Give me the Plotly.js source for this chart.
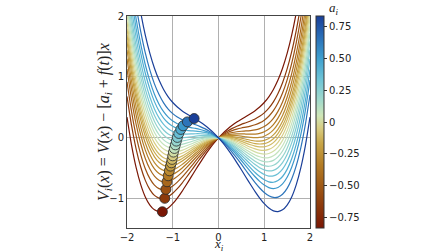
<!DOCTYPE html>
<html><head><meta charset="utf-8">
<script src="https://cdn.plot.ly/plotly-3.0.1.min.js"></script>
<style>html,body{margin:0;padding:0;background:#fff}#chart{width:448px;height:252px}</style>
</head><body><div id="chart"></div>
<script>
// x sample positions of the potential curves
const xGrid = [-2.0,-1.9,-1.8,-1.7,-1.6,-1.5,-1.4,-1.3,-1.2,-1.1,-1.0,-0.9,-0.8,-0.7,-0.6,-0.5,-0.4,-0.3,-0.2,-0.1,
  0.0,0.1,0.2,0.3,0.4,0.5,0.6,0.7,0.8,0.9,1.0,1.1,1.2,1.3,1.4,1.5,1.6,1.7,1.8,1.9,2.0];
// untilted double-well V(x), read from the a_i ≈ 0 curve
const baseV = [2.000,1.453,1.004,0.643,0.358,0.141,-0.020,-0.131,-0.202,-0.239,-0.250,-0.241,-0.218,-0.185,-0.148,-0.109,-0.074,-0.043,-0.020,-0.005,
  0.000,-0.005,-0.020,-0.043,-0.074,-0.109,-0.148,-0.185,-0.218,-0.241,-0.250,-0.239,-0.202,-0.131,-0.020,0.141,0.358,0.643,1.004,1.453,2.000];
// tilt a_i of each particle (ascending)
const aValues = [-0.83,-0.66,-0.54,-0.435,-0.35,-0.277,-0.208,-0.155,-0.103,-0.045,0.016,0.078,0.14,0.207,0.276,0.353,0.439,0.526,0.647,0.83];
// particle positions (dots)
const dotX = [-1.227,-1.175,-1.15,-1.125,-1.1,-1.075,-1.05,-1.03,-1.015,-1.0,-0.985,-0.965,-0.943,-0.921,-0.899,-0.868,-0.825,-0.774,-0.68,-0.533];
const dotY = [-1.213,-0.993,-0.846,-0.721,-0.623,-0.541,-0.464,-0.41,-0.354,-0.295,-0.234,-0.174,-0.115,-0.054,0.007,0.072,0.138,0.197,0.262,0.317];
// tick labels
const xTicks = [-2,-1,0,1,2];
const xTickText = ['\u22122','\u22121','0','1','2'];
const yTicks = [-1,0,1,2];
const yTickText = ['\u22121','0','1','2'];
const cbTicks = [-0.75,-0.5,-0.25,0,0.25,0.5,0.75];
const cbTickText = ['\u22120.75','\u22120.50','\u22120.25','0','0.25','0.50','0.75'];
// texts
const xTitle = '<i>x<sub>i</sub></i>';
const yTitle = '<i>V<sub>i</sub></i>(<i>x</i>) = <i>V</i>(<i>x</i>) \u2212 [<i>a<sub>i</sub></i> + <i>f</i>(<i>t</i>)]<i>x</i>';
const cbTitle = '<i>a<sub>i</sub></i>';

const cMin = -0.83, cMax = 0.83;
const roma = [
  [0.0,'#7a1705'],[0.1,'#8c380b'],[0.2,'#a05a16'],[0.3,'#b47d25'],[0.4,'#c8a648'],
  [0.47,'#d8cc80'],[0.53,'#cfe6b8'],[0.6,'#a3dacb'],[0.7,'#6ec4d6'],[0.8,'#3fa0cf'],
  [0.9,'#2a6fb8'],[1.0,'#1a3f99']
];
function hex2rgb(h){return [parseInt(h.slice(1,3),16),parseInt(h.slice(3,5),16),parseInt(h.slice(5,7),16)];}
function colorAt(v){
  let t=(v-cMin)/(cMax-cMin); t=Math.max(0,Math.min(1,t));
  for(let k=0;k<roma.length-1;k++){
    const [t0,c0]=roma[k],[t1,c1]=roma[k+1];
    if(t<=t1){const f=(t-t0)/(t1-t0);const a=hex2rgb(c0),b=hex2rgb(c1);
      return 'rgb('+a.map((x,i)=>Math.round(x+(b[i]-x)*f)).join(',')+')';}
  }
  return roma[roma.length-1][1];
}

const traces = [];
aValues.forEach(a=>{
  traces.push({
    x: xGrid,
    y: xGrid.map((x,j)=>baseV[j]-a*x),   // V_i(x) = V(x) - a_i x (the y-axis definition)
    mode:'lines', line:{color:colorAt(a), width:1.2, shape:'spline', smoothing:0.6},
    hoverinfo:'skip', showlegend:false
  });
});
traces.push({
  x: dotX, y: dotY, mode:'markers', showlegend:false, hoverinfo:'skip',
  marker:{size:10, color:aValues, colorscale:roma, cmin:cMin, cmax:cMax,
    line:{color:'#2a2a2a', width:0.8}, showscale:true,
    colorbar:{x:1.033, xanchor:'left', xpad:0, ypad:0, y:0.5, yanchor:'middle', len:1, lenmode:'fraction',
      thickness:8, outlinewidth:1, outlinecolor:'#333',
      tickvals:cbTicks, ticktext:cbTickText, ticks:'outside', ticklen:3, tickcolor:'#333',
      tickfont:{family:'DejaVu Sans', size:10, color:'#222'}}}
});

const axisCommon = {showgrid:true, gridcolor:'#b0b0b0', gridwidth:1, zeroline:false,
  showline:true, mirror:true, linecolor:'#444', linewidth:1, ticks:'',
  tickfont:{family:'DejaVu Sans', size:10, color:'#222'}};

const serif = {family:'Liberation Serif', color:'#222'};
const layout = {
  width:448, height:252,
  margin:{l:127, r:138, t:16, b:24, pad:0},
  paper_bgcolor:'#fff', plot_bgcolor:'#fff',
  xaxis: Object.assign({}, axisCommon, {range:[-2,2], tickvals:xTicks, ticktext:xTickText}),
  yaxis: Object.assign({}, axisCommon, {range:[-1.48,2], tickvals:yTicks, ticktext:yTickText}),
  annotations:[
    {text:cbTitle, xref:'paper', yref:'paper', x:1.131, y:1.036, xanchor:'center', yanchor:'middle',
     showarrow:false, borderpad:0, font:Object.assign({size:13}, serif)},
    {text:xTitle, xref:'paper', yref:'paper', x:0.5, y:-0.078, xanchor:'center', yanchor:'middle',
     showarrow:false, borderpad:0, font:Object.assign({size:13}, serif)},
    {text:yTitle, xref:'paper', yref:'paper', x:-0.126, y:0.5, xanchor:'center', yanchor:'middle',
     textangle:-90, showarrow:false, borderpad:0, font:Object.assign({size:16}, serif)}
  ],
  showlegend:false
};
Plotly.newPlot('chart', traces, layout, {displayModeBar:false, staticPlot:true});
</script>
</body></html>
